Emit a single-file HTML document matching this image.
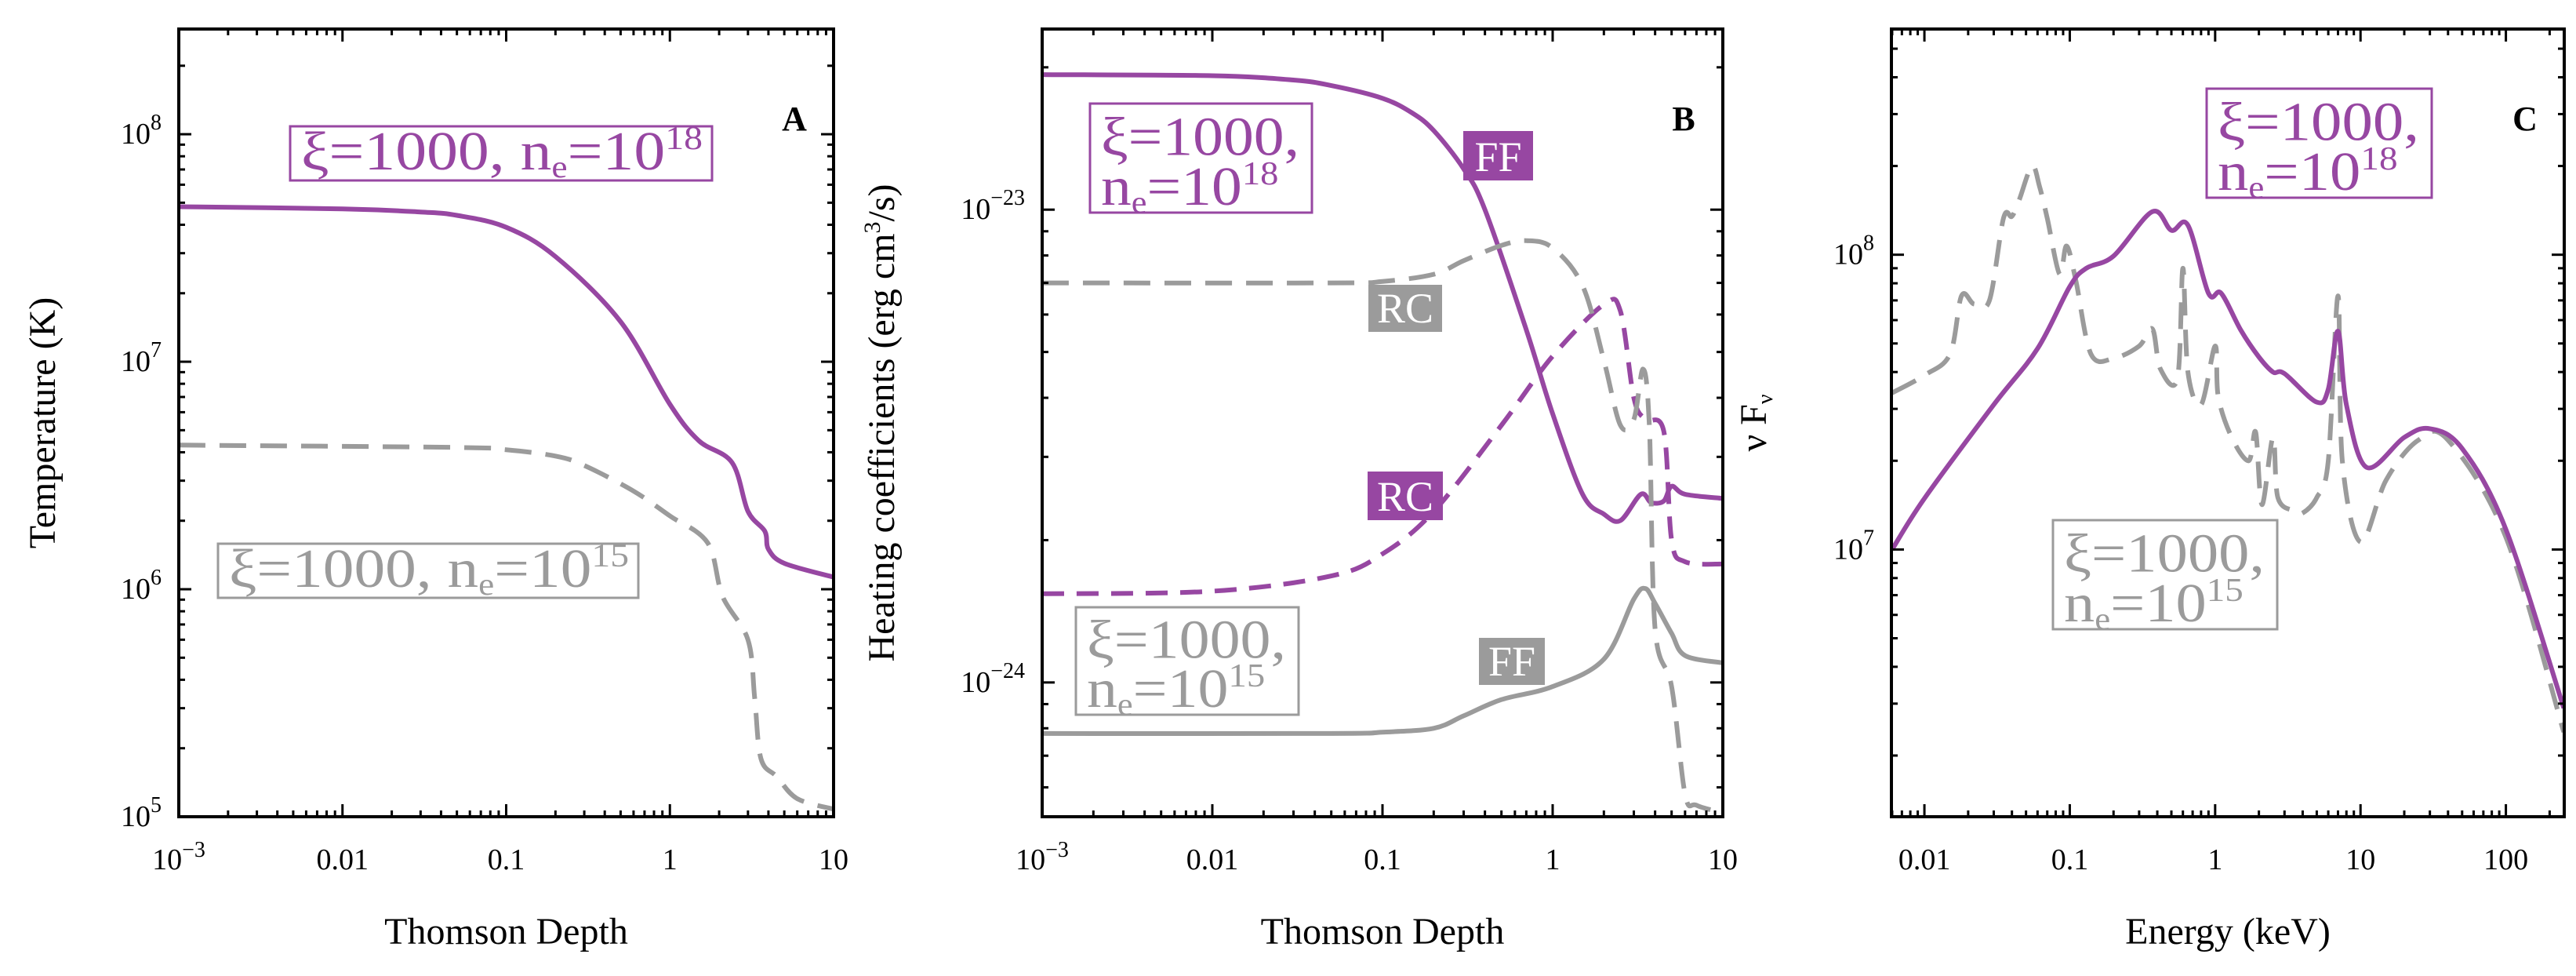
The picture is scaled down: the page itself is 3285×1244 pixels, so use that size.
<!DOCTYPE html>
<html><head><meta charset="utf-8"><style>
html,body{margin:0;padding:0;background:#fff}
svg{display:block}
text{font-family:"Liberation Serif",serif}
</style></head><body>
<svg id="fig" width="3285" height="1244" viewBox="0 0 3285 1244" xmlns="http://www.w3.org/2000/svg"></svg>
<script>
const PURPLE = '#9747a2', GRAY = '#9b9b9b';
// Panel A data
const aTau = [0.001,0.01,0.03,0.05,0.1,0.2,0.5,1,1.5,2.4,3,3.8,4,5,10];
const aT18 = [4.8e7,4.7e7,4.55e7,4.4e7,3.9e7,2.9e7,1.5e7,6.5e6,4.5e6,3.6e6,2.2e6,1.8e6,1.5e6,1.3e6,1.13e6];
const aTau15 = [0.001,0.05,0.1,0.2,0.3,0.6,1,1.7,2.1,3,3.3,3.6,4.5,6,10];
const aT15 = [4.3e6,4.2e6,4.1e6,3.85e6,3.5e6,2.7e6,2.1e6,1.6e6,9.3e5,6e5,3.3e5,1.8e5,1.5e5,1.2e5,1.08e5];
// Panel B data
const bTauFF18 = [0.001,0.01,0.03,0.05,0.1,0.15,0.2,0.3,0.4,0.7,1,1.5,2,2.5,3.3,3.8,4.5,5,6,10];
const bFF18 = [1.93e-23,1.92e-23,1.88e-23,1.83e-23,1.72e-23,1.6e-23,1.47e-23,1.22e-23,1.0e-23,5.57e-24,3.7e-24,2.5e-24,2.27e-24,2.2e-24,2.5e-24,2.4e-24,2.42e-24,2.6e-24,2.5e-24,2.45e-24];
const bTauRC18 = [0.001,0.01,0.05,0.1,0.2,0.5,1,2,2.5,3,3.5,4.5,5,6,10];
const bRC18 = [1.54e-24,1.56e-24,1.68e-24,1.87e-24,2.3e-24,3.5e-24,4.9e-24,6.3e-24,6.1e-24,4.0e-24,3.6e-24,3.4e-24,2.0e-24,1.8e-24,1.78e-24];
const bTauRC15 = [0.001,0.05,0.1,0.2,0.3,0.5,0.7,1,1.5,2,2.5,3,3.4,3.7,4,5,6,7,10];
const bRC15 = [7.0e-24,7.0e-24,7.05e-24,7.3e-24,7.8e-24,8.4e-24,8.6e-24,8.3e-24,6.9e-24,4.8e-24,3.5e-24,3.6e-24,4.6e-24,3.5e-24,1.3e-24,9.8e-25,5.8e-25,5.5e-25,5.3e-25];
const bTauFF15 = [0.001,0.05,0.1,0.2,0.3,0.5,1,2,3,3.5,4,5,6,10];
const bFF15 = [7.8e-25,7.8e-25,7.85e-25,8.0e-25,8.5e-25,9.2e-25,9.8e-25,1.12e-24,1.5e-24,1.58e-24,1.47e-24,1.27e-24,1.14e-24,1.1e-24];
// Panel C data
const cE18 = [0.006,0.01,0.03,0.06,0.1,0.13,0.2,0.37,0.5,0.65,0.9,1.1,1.5,2,2.5,3,5,6,7,8,11,20,30,50,100,250];
const cF18 = [1.0e7,1.49e7,3.1e7,4.8e7,7.8e7,9.0e7,9.9e7,1.4e8,1.21e8,1.26e8,7.4e7,7.4e7,5.55e7,4.5e7,4.0e7,3.95e7,3.16e7,3.5e7,5.5e7,3.1e7,1.9e7,2.4e7,2.57e7,2.2e7,1.17e7,2.9e6];
const cE15 = [0.006,0.01,0.015,0.018,0.022,0.028,0.035,0.04,0.045,0.055,0.062,0.07,0.085,0.095,0.11,0.14,0.2,0.3,0.37,0.42,0.55,0.6,0.65,0.8,1.0,1.05,1.3,1.7,1.9,2.1,2.5,2.7,3.5,4,5,6,7,7.5,10,15,25,40,100,250];
const cF15 = [3.4e7,3.9e7,4.6e7,7.25e7,6.8e7,7.0e7,1.33e8,1.35e8,1.54e8,2.0e8,1.7e8,1.33e8,8.6e7,1.07e8,8.2e7,4.6e7,4.45e7,4.9e7,5.6e7,4.1e7,3.8e7,9.0e7,4.0e7,3.1e7,4.9e7,3.3e7,2.4e7,2.0e7,2.5e7,1.42e7,2.4e7,1.5e7,1.35e7,1.33e7,1.5e7,2.0e7,7.25e7,2.0e7,1.06e7,1.72e7,2.35e7,2.35e7,1.1e7,2.4e6];

const NS='http://www.w3.org/2000/svg';
const svg=document.getElementById('fig');
function el(tag,attrs,parent){const e=document.createElementNS(NS,tag);for(const k in attrs)e.setAttribute(k,attrs[k]);(parent||svg).appendChild(e);return e;}
function logScale(d0,d1,r0,r1){const a=Math.log10(d0),b=Math.log10(d1);return v=>r0+(Math.log10(v)-a)/(b-a)*(r1-r0);}
function smoothPath(pts){
  let d='M'+pts[0][0].toFixed(1)+','+pts[0][1].toFixed(1);
  for(let i=0;i<pts.length-1;i++){
    const p0=pts[Math.max(0,i-1)],p1=pts[i],p2=pts[i+1],p3=pts[Math.min(pts.length-1,i+2)];
    const c1=[p1[0]+(p2[0]-p0[0])/6,p1[1]+(p2[1]-p0[1])/6];
    const c2=[p2[0]-(p3[0]-p1[0])/6,p2[1]-(p3[1]-p1[1])/6];
    d+=` C${c1[0].toFixed(1)},${c1[1].toFixed(1)} ${c2[0].toFixed(1)},${c2[1].toFixed(1)} ${p2[0].toFixed(1)},${p2[1].toFixed(1)}`;
  }
  return d;
}
const T0=37, B0=1041;

function panel(p){
  const g=el('g',{});
  
  
  const X=logScale(p.xd[0],p.xd[1],p.L,p.R), Y=logScale(p.yd[0],p.yd[1],p.B,p.T);
  const cp=el('clipPath',{id:'clip-'+p.name},g);
  el('rect',{x:p.L,y:p.T,width:p.R-p.L,height:p.B-p.T},cp);
  p.series.forEach(s=>{
    const pts=s.x.map((v,i)=>[X(v),Y(s.y[i])]);
    const path=el('path',{d:smoothPath(pts),fill:'none',stroke:s.color,'stroke-width':6,'stroke-linejoin':'round','stroke-dasharray':s.dash?s.dash:'none','clip-path':'url(#clip-'+p.name+')'},g);
    
    
  });
  const fr=el('rect',{x:p.L,y:p.T,width:p.R-p.L,height:p.B-p.T,fill:'none',stroke:'#000','stroke-width':4},g);
  
  
  const tk=el('g',{stroke:'#000','stroke-width':3},g);
  
  
  const xs=Math.floor(Math.log10(p.xd[0])), xe=Math.ceil(Math.log10(p.xd[1]));
  for(let e=xs;e<=xe;e++){for(let m=1;m<10;m++){const v=m*Math.pow(10,e);if(v<p.xd[0]*0.999||v>p.xd[1]*1.001)continue;const x=X(v),len=m==1?16:8;
    el('line',{x1:x,y1:p.B,x2:x,y2:p.B-len},tk);el('line',{x1:x,y1:p.T,x2:x,y2:p.T+len},tk);}}
  const ys=Math.floor(Math.log10(p.yd[0])), ye=Math.ceil(Math.log10(p.yd[1]));
  for(let e=ys;e<=ye;e++){for(let m=1;m<10;m++){const v=m*Math.pow(10,e);if(v<p.yd[0]*0.999||v>p.yd[1]*1.001)continue;const y=Y(v),len=m==1?16:8;
    el('line',{x1:p.L,y1:y,x2:p.L+len,y2:y},tk);el('line',{x1:p.R,y1:y,x2:p.R-len,y2:y},tk);}}
  p.xTickVals.forEach((v,i)=>{
    const t=el('text',{x:X(v),y:1108,'font-size':38,'text-anchor':'middle'},g);
    
    
    const lab=p.xTickLabels[i];
    if(typeof lab==='object'){t.textContent=lab.base;const s=el('tspan',{dy:-16,'font-size':28},t);s.textContent=lab.exp;}
    else t.textContent=lab;
  });
  p.yTickVals.forEach((v,i)=>{
    const t=el('text',{x:p.L-22,y:Y(v)+12,'font-size':38,'text-anchor':'end'},g);
    
    
    t.textContent='10';const s=el('tspan',{dy:-18,'font-size':28},t);s.textContent=p.yTickSup[i];
  });
  const xt=el('text',{x:(p.L+p.R)/2,y:1203,'font-size':48,'text-anchor':'middle'},g);
  
  
  xt.textContent=p.xTitle;
  const yt=el('text',{x:0,y:0,'font-size':48,'text-anchor':'middle',transform:`translate(${p.yTitleX},${(p.T+p.B)/2}) rotate(-90)`},g);
  
  
  p.yTitle(yt);
  const pl=el('text',{x:p.R-50,y:166,'font-size':44,'text-anchor':'middle','font-weight':'bold'},g);
  
  
  pl.textContent=p.label;
  return g;
}
function yTitleSimple(s){return t=>{t.textContent=s;};}

function legendBox(x,y,w,h,color,exp,twoLine,name){
  const g=el('g',{});
  
  
  el('rect',{x:x,y:y,width:w,height:h,fill:'#fff',stroke:color,'stroke-width':3},g);
  const fs=70;
  if(!twoLine){
    const t=el('text',{x:x+14,y:y+h-14,'font-size':fs,fill:color,textLength:w-26,lengthAdjust:'spacingAndGlyphs'},g);
    t.textContent='ξ=1000, n';
    const s=el('tspan',{dy:10,'font-size':40},t);s.textContent='e';
    const u=el('tspan',{dy:-10},t);u.textContent='=10';
    const v=el('tspan',{dy:-26,'font-size':42},t);v.textContent=exp;
  } else {
    const t1=el('text',{x:x+14,y:y+h/2-4,'font-size':fs,fill:color,textLength:w-30,lengthAdjust:'spacingAndGlyphs'},g);
    t1.textContent='ξ=1000,';
    const t=el('text',{x:x+14,y:y+h-10,'font-size':fs,fill:color,textLength:w*0.8,lengthAdjust:'spacingAndGlyphs'},g);
    t.textContent='n';
    const s=el('tspan',{dy:10,'font-size':40},t);s.textContent='e';
    const u=el('tspan',{dy:-10},t);u.textContent='=10';
    const v=el('tspan',{dy:-26,'font-size':42},t);v.textContent=exp;
  }
}
function tag(x,y,w,h,color,txt,name){
  const g=el('g',{});
  
  
  el('rect',{x:x,y:y,width:w,height:h,fill:color},g);
  const t=el('text',{x:x+w/2,y:y+h-12,'font-size':54,fill:'#fff','text-anchor':'middle'},g);
  t.textContent=txt;
}

const dashG='34,18', dashP='28,16';
panel({name:'panel-a',L:228,R:1063,T:T0,B:B0,xd:[1e-3,10],yd:[1e5,2.9e8],
  xTickVals:[1e-3,0.01,0.1,1,10],xTickLabels:[{base:'10',exp:'−3'},'0.01','0.1','1','10'],
  yTickVals:[1e5,1e6,1e7,1e8],yTickSup:['5','6','7','8'],
  xTitle:'Thomson Depth',yTitleX:70,yTitle:yTitleSimple('Temperature (K)'),label:'A',
  series:[{name:'temperature-ne18',x:aTau,y:aT18,color:PURPLE},
          {name:'temperature-ne15',x:aTau15,y:aT15,color:GRAY,dash:dashG}]});
panel({name:'panel-b',L:1329,R:2197,T:T0,B:B0,xd:[1e-3,10],yd:[5.2e-25,2.41e-23],
  xTickVals:[1e-3,0.01,0.1,1,10],xTickLabels:[{base:'10',exp:'−3'},'0.01','0.1','1','10'],
  yTickVals:[1e-24,1e-23],yTickSup:['−24','−23'],
  xTitle:'Thomson Depth',yTitleX:1140,yTitle:t=>{t.textContent='Heating coefficients (erg cm';const s=el('tspan',{dy:-18,'font-size':30},t);s.textContent='3';const u=el('tspan',{dy:18},t);u.textContent='/s)';},label:'B',
  series:[{name:'ff-ne18',x:bTauFF18,y:bFF18,color:PURPLE},
          {name:'rc-ne18',x:bTauRC18,y:bRC18,color:PURPLE,dash:dashP},
          {name:'rc-ne15',x:bTauRC15,y:bRC15,color:GRAY,dash:dashG},
          {name:'ff-ne15',x:bTauFF15,y:bFF15,color:GRAY}]});
panel({name:'panel-c',L:2412,R:3270,T:T0,B:B0,xd:[0.00593,252],yd:[1.24e6,5.83e8],
  xTickVals:[0.01,0.1,1,10,100],xTickLabels:['0.01','0.1','1','10','100'],
  yTickVals:[1e7,1e8],yTickSup:['7','8'],
  xTitle:'Energy (keV)',yTitleX:2252,yTitle:t=>{t.textContent='ν F';const s=el('tspan',{dy:8,'font-size':28},t);s.textContent='ν';},label:'C',
  series:[{name:'spectrum-ne15',x:cE15,y:cF15,color:GRAY,dash:dashG},
          {name:'spectrum-ne18',x:cE18,y:cF18,color:PURPLE}]});

legendBox(370,161,538,69,PURPLE,'18',false,'legend-a-ne18');
legendBox(278,693,536,69,GRAY,'15',false,'legend-a-ne15');
legendBox(1390,132,283,139,PURPLE,'18',true,'legend-b-ne18');
legendBox(1372,774,284,137,GRAY,'15',true,'legend-b-ne15');
legendBox(2814,113,287,139,PURPLE,'18',true,'legend-c-ne18');
legendBox(2618,663,286,139,GRAY,'15',true,'legend-c-ne15');
tag(1866,167,89,63,PURPLE,'FF','tag-ff-ne18');
tag(1745,363,94,60,GRAY,'RC','tag-rc-ne15');
tag(1744,601,96,62,PURPLE,'RC','tag-rc-ne18');
tag(1886,813,84,60,GRAY,'FF','tag-ff-ne15');
</script>
</body></html>
